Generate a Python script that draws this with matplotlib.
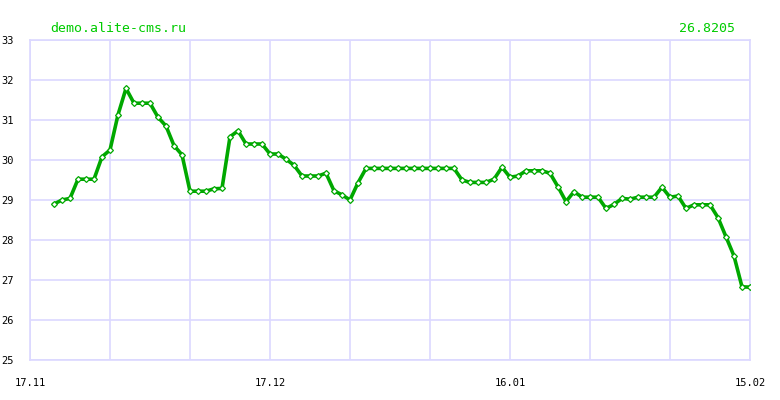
import matplotlib

matplotlib.use("Agg")
import matplotlib.pyplot as plt

# days since 17.11, one value per day
start_day = 3
values = [
    28.90, 29.00, 29.04, 29.52, 29.52, 29.52, 30.08, 30.25, 31.13, 31.79,
    31.42, 31.42, 31.42, 31.07, 30.85, 30.36, 30.13, 29.22, 29.22, 29.22,
    29.28, 29.29, 30.58, 30.73, 30.40, 30.40, 30.40, 30.15, 30.15, 30.02,
    29.87, 29.60, 29.60, 29.60, 29.67, 29.23, 29.13, 29.00, 29.43,
    29.79, 29.79, 29.79, 29.79, 29.79, 29.79, 29.79, 29.79, 29.79, 29.79,
    29.79, 29.79,
    29.50, 29.44, 29.44, 29.44, 29.52, 29.82, 29.57, 29.60, 29.73, 29.73,
    29.73, 29.67, 29.33, 28.96, 29.21, 29.07, 29.07, 29.07, 28.79, 28.89,
    29.04, 29.02, 29.07, 29.07, 29.07, 29.32, 29.07, 29.10, 28.79, 28.88,
    28.88, 28.88, 28.56, 28.08, 27.60, 26.83, 26.8205,
]
days = list(range(start_day, start_day + len(values)))

x_label_days = [0, 30, 60, 90]
x_labels = ["17.11", "17.12", "16.01", "15.02"]
y_ticks = [25, 26, 27, 28, 29, 30, 31, 32, 33]

title_left = "demo.alite-cms.ru"
title_right = "26.8205"

grid_color = "#dcd8ff"
green = "#00a800"
mono = "DejaVu Sans Mono"

fig = plt.figure(figsize=(7.8, 4.0), dpi=100)
ax = fig.add_axes([30 / 780, 40 / 400, 720 / 780, 320 / 400])

ax.plot(days, values, color=green, lw=2.6, marker="D", ms=3.0,
        mfc="white", mec=green, mew=0.9, zorder=3)

ax.set_xlim(0, 90)
ax.set_ylim(25, 33)
ax.set_xticks(range(0, 91, 10))
ax.set_xticklabels([x_labels[x_label_days.index(d)] if d in x_label_days else ""
                    for d in range(0, 91, 10)])
ax.set_yticks(y_ticks)
ax.grid(True, color=grid_color, lw=1.2)
ax.set_axisbelow(True)
for s in ax.spines.values():
    s.set_color(grid_color)
    s.set_linewidth(1.2)

ax.tick_params(axis="both", length=0, labelsize=7.5, labelcolor="black")
ax.tick_params(axis="x", pad=13)
ax.tick_params(axis="y", pad=12)
for lbl in ax.get_xticklabels() + ax.get_yticklabels():
    lbl.set_family(mono)

fig.text(50 / 780, 1 - 28 / 400, title_left, color="#00cc00", fontsize=9.5,
         family=mono, ha="left", va="center")
fig.text(735 / 780, 1 - 28 / 400, title_right, color="#00cc00", fontsize=9.5,
         family=mono, ha="right", va="center")

fig.savefig("out.png", dpi=100)
